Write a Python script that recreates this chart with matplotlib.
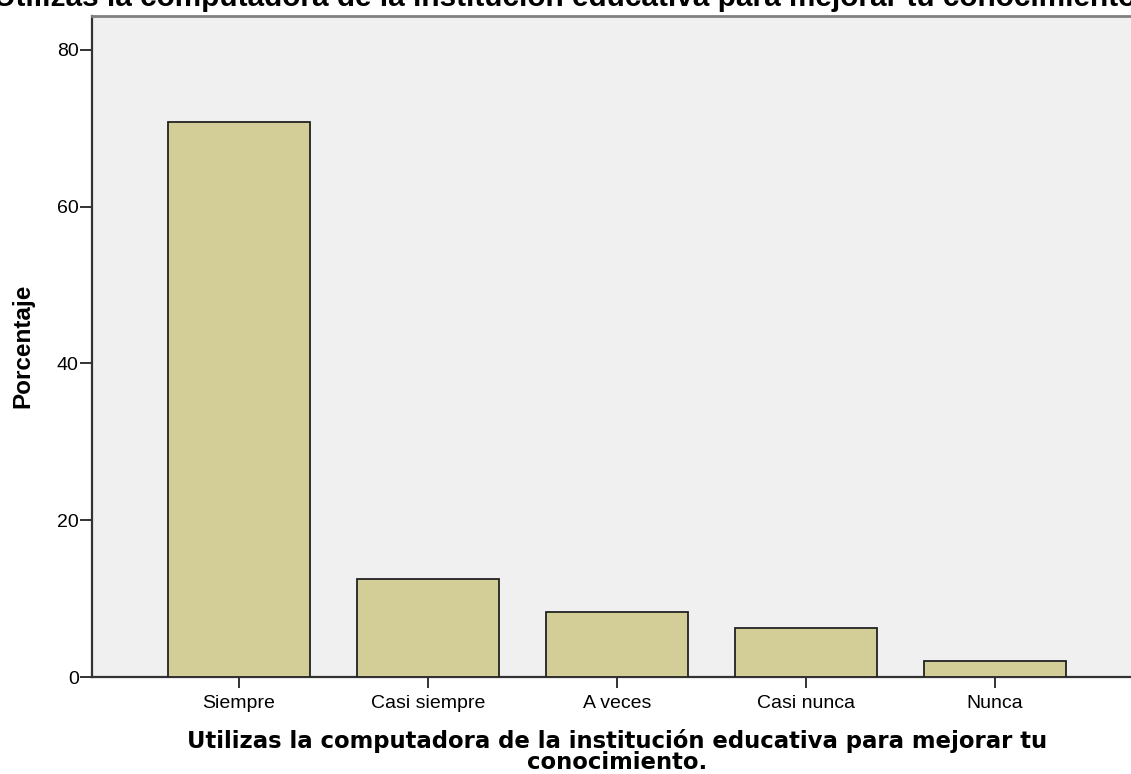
import matplotlib
matplotlib.use("Agg")
import matplotlib.pyplot as plt

# survey answers and their percentage of respondents
categories = ["Siempre", "Casi siempre", "A veces", "Casi nunca", "Nunca"]
percentages = [70.83, 12.50, 8.33, 6.25, 2.08]
y_ticks = [0, 20, 40, 60, 80]

title_text = "Utilizas la computadora de la institución educativa para mejorar tu conocimiento"
xlabel_lines = ["Utilizas la computadora de la institución educativa para mejorar tu",
                "conocimiento."]

plt.rcParams['font.family'] = ['Liberation Sans', 'DejaVu Sans']

W, H = 1131, 774
fig = plt.figure(figsize=(W / 100, H / 100), dpi=100)

# plot area in pixels (right side runs past the image edge, like the cropped original)
left, right, top, bottom = 92, 1142, 16, 677
ax = fig.add_axes([left / W, 1 - bottom / H, (right - left) / W, (bottom - top) / H])
ax.set_facecolor('#F0F0F0')

x = range(len(categories))
ax.bar(x, percentages, width=0.75, color='#D3CE97', edgecolor='#222222', linewidth=1.3, zorder=3)

ax.set_xlim(-0.778, len(categories) - 1 + 0.778)
ax.set_ylim(0, 84.3)
ax.set_yticks(y_ticks)
ax.set_xticks(list(x))
ax.set_xticklabels(categories)
ax.tick_params(axis='y', labelsize=14, length=9, width=1.4, color='#333333', pad=0.5)
ax.tick_params(axis='x', labelsize=14, length=8, width=1.4, color='#333333', pad=5)

for side in ['left', 'bottom']:
    ax.spines[side].set_color('#333333')
    ax.spines[side].set_linewidth(1.6)
ax.spines['top'].set_color('#808080')
ax.spines['top'].set_linewidth(2)
ax.spines['right'].set_visible(False)

fig.text(23 / W, 1 - 346 / H, "Porcentaje", rotation=90, ha='center', va='center',
         fontsize=17.5, fontweight='bold')

# axis title in the wider bold face, two centred lines
fig.text(617 / W, 1 - 748 / H, xlabel_lines[0], ha='center', va='baseline',
         fontsize=16.4, fontweight='bold', family='DejaVu Sans')
fig.text(617 / W, 1 - 769 / H, xlabel_lines[1], ha='center', va='baseline',
         fontsize=16.4, fontweight='bold', family='DejaVu Sans')

# chart title, cut by the top edge as in the original
fig.text(565 / W, 1 - 6 / H, title_text, ha='center', va='baseline',
         fontsize=21.4, fontweight='bold')

fig.savefig("out.png", dpi=100)
